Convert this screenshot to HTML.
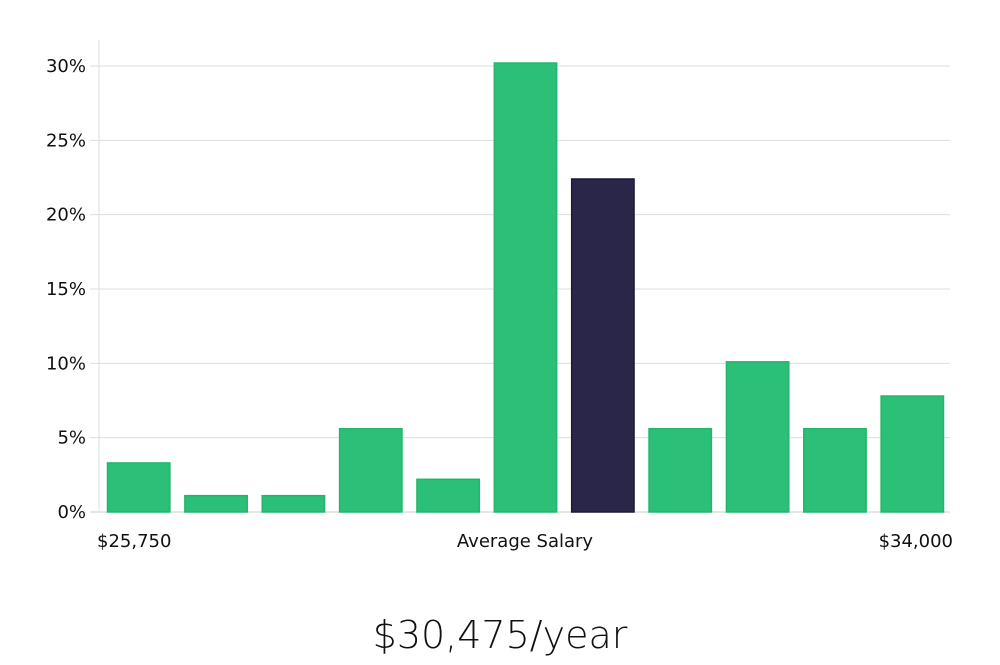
<!DOCTYPE html>
<html><head><meta charset="utf-8"><style>
body{margin:0;background:#fff;font-family:"Liberation Sans","DejaVu Sans",sans-serif;}
svg text{font-family:"DejaVu Sans","Liberation Sans",sans-serif;}
</style></head><body>
<svg width="1000" height="660">
<g id="grid"></g><g id="bars"></g><g id="labels"></g>
<line x1="99" y1="40" x2="99" y2="512" stroke="#ddd"/>
<text x="97" y="547" font-size="18" fill="#111">$25,750</text>
<text x="525" y="547" font-size="18" fill="#111" text-anchor="middle">Average Salary</text>
<text x="953" y="547" font-size="18" fill="#111" text-anchor="end">$34,000</text>
<text x="500" y="648" font-size="38" fill="#111" text-anchor="middle" font-family="Liberation Sans Narrow,Liberation Sans,sans-serif" style="font-weight:300">$30,475/year</text>
</svg>
<script>
const values=[3.3,1.1,1.1,5.6,2.2,30.2,22.4,5.6,10.1,5.6,7.8];
const highlight=[0,0,0,0,0,0,1,0,0,0,0];
const ticks=[0,5,10,15,20,25,30];
const tickLabels=["0%","5%","10%","15%","20%","25%","30%"];
const NS="http://www.w3.org/2000/svg";
const x0=99,x1=950,yBase=512,yTop=66,maxV=30;
const y=v=>yBase-(v/maxV)*(yBase-yTop);
const band=(x1-x0)/values.length;
const xb=i=>x0+i*band;
const g=document.getElementById('grid'),b=document.getElementById('bars'),l=document.getElementById('labels');
ticks.forEach((t,i)=>{
 const ln=document.createElementNS(NS,'line');
 
 
 ln.setAttribute('x1',i==0?90:90);ln.setAttribute('x2',x1);
 ln.setAttribute('y1',y(t));ln.setAttribute('y2',y(t));
 ln.setAttribute('stroke',i==0?'#ccc':'#ddd');
 g.appendChild(ln);
 const tx=document.createElementNS(NS,'text');
 
 
 tx.setAttribute('x',86);tx.setAttribute('y',y(t)+6);
 tx.setAttribute('text-anchor','end');tx.setAttribute('font-size','18');tx.setAttribute('fill','#111');
 tx.textContent=tickLabels[i];l.appendChild(tx);
});
values.forEach((v,i)=>{
 const r=document.createElementNS(NS,'rect');
 
 
 r.setAttribute('x',xb(i)+8.5);r.setAttribute('width',band-15);
 r.setAttribute('y',y(v));r.setAttribute('height',yBase-y(v));
 r.setAttribute('fill',highlight[i]?'#29264a':'#2bbf77');
 r.setAttribute('stroke',highlight[i]?'#1c1a3a':'#22b56d');r.setAttribute('stroke-width','1.5');
 b.appendChild(r);
});
</script>
</body></html>
